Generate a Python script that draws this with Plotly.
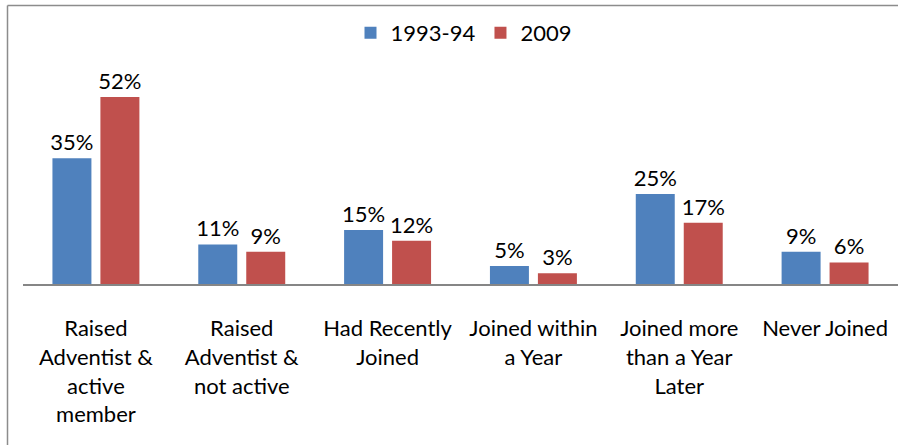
import plotly.graph_objects as go

categories = [
    "Raised<br>Adventist &<br>active<br>member",
    "Raised<br>Adventist &<br>not active",
    "Had Recently<br>Joined",
    "Joined within<br>a Year",
    "Joined more<br>than a Year<br>Later",
    "Never Joined",
]
series_names = ["1993-94", "2009"]
values_1993 = [35, 11, 15, 5, 25, 9]
values_2009 = [52, 9, 12, 3, 17, 6]
colors = ["#4F81BD", "#C0504D"]

FONT = "Lato, 'Open Sans', sans-serif"

fig = go.Figure()
for name, vals, col in zip(series_names, [values_1993, values_2009], colors):
    fig.add_trace(go.Bar(
        x=categories, y=vals, name=name,
        marker=dict(color=col, line=dict(width=0)),
        text=[f"{v}%" for v in vals], textposition="outside",
        constraintext="none",
        textfont=dict(family=FONT, size=22, color="#000000"),
        cliponaxis=False,
    ))

W, H = 898, 445
L, R, T, B = 23, 0, 60, 161
plot_h = H - T - B
plot_w = W - L - R
px_per_pct = 187 / 52

def px_x(p):
    return (p - L) / plot_w

def px_y(p):
    return (H - B - p) / plot_h

border = dict(color="#8C8C8C", width=1.5)
fig.update_layout(
    width=W, height=H,
    margin=dict(l=L, r=R, t=T, b=B),
    paper_bgcolor="white", plot_bgcolor="white",
    barmode="group", bargap=0.342, bargroupgap=0.1875,
    font=dict(family=FONT, size=22, color="#000000"),
    showlegend=True,
    legend=dict(orientation="h", x=px_x(464), xanchor="center",
                y=px_y(33), yanchor="middle",
                font=dict(family=FONT, size=22, color="#000000"),
                itemwidth=30, bgcolor="rgba(0,0,0,0)"),
    xaxis=dict(showline=True, linecolor="#868686", linewidth=2,
               showgrid=False, ticks="", ticklabelstandoff=24,
               tickfont=dict(family=FONT, size=22, color="#000000"),
               zeroline=False, fixedrange=True),
    yaxis=dict(visible=False, range=[0, plot_h / px_per_pct],
               showgrid=False, zeroline=False, fixedrange=True),
    shapes=[
        dict(type="line", xref="paper", yref="paper",
             x0=px_x(7.5), y0=px_y(5.5), x1=px_x(W + 5), y1=px_y(5.5),
             line=border, layer="below"),
        dict(type="line", xref="paper", yref="paper",
             x0=px_x(7.5), y0=px_y(5.5), x1=px_x(7.5), y1=px_y(H + 5),
             line=border, layer="below"),
    ],
)

fig.write_html(
    "out.html",
    config={"displayModeBar": False},
    post_script="document.body.style.margin='0';document.body.style.overflow='hidden';",
)
